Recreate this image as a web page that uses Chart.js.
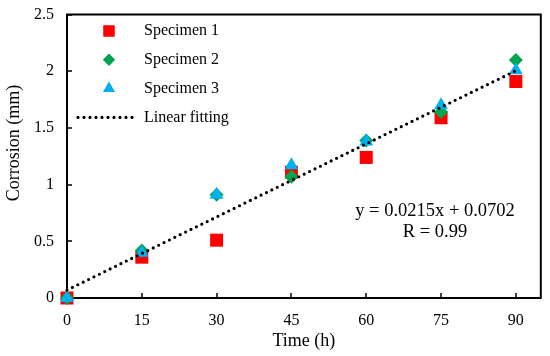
<!DOCTYPE html>
<html><head><meta charset="utf-8">
<script src="https://cdn.jsdelivr.net/npm/chart.js@4"></script>
<style>html,body{margin:0;padding:0;background:#fff}#wrap{width:550px;height:356px}</style>
</head><body><div id="wrap"><canvas id="c" width="550" height="356"></canvas></div>
<script>
const timeH = [0, 15, 30, 45, 60, 75, 90];
const specimen1 = [0, 0.36, 0.51, 1.11, 1.24, 1.59, 1.91];
const specimen2 = [0, 0.42, 0.91, 1.07, 1.39, 1.64, 2.10];
const specimen3 = [0, 0.40, 0.91, 1.17, 1.38, 1.70, 2.01];
const fitX = [0, 90];
const fitY = [0.0702, 2.0052];
const xTicks = [0, 15, 30, 45, 60, 75, 90];
const yTicks = [0, 0.5, 1, 1.5, 2, 2.5];
const seriesLabels = ['Specimen 1', 'Specimen 2', 'Specimen 3', 'Linear fitting'];
const annotationLines = ['y = 0.0215x + 0.0702', 'R = 0.99'];
const xTitle = 'Time (h)';
const yTitle = 'Corrosion (mm)';

const FONT = '"Liberation Serif", "Times New Roman", serif';
const pts = (xs, ys) => xs.map((x, i) => ({x: x, y: ys[i]}));

const boxPlugin = {
  id: 'box',
  beforeDatasetsDraw(chart) {
    const {ctx, chartArea: a, scales} = chart;
    ctx.save();
    ctx.strokeStyle = '#000';
    ctx.lineWidth = 2;
    ctx.beginPath();
    ctx.rect(a.left, a.top, a.right - a.left, a.bottom - a.top);
    ctx.stroke();
    ctx.lineWidth = 1.5;
    xTicks.forEach(v => {
      const px = Math.round(scales.x.getPixelForValue(v));
      ctx.beginPath(); ctx.moveTo(px, a.bottom); ctx.lineTo(px, a.bottom - 5); ctx.stroke();
    });
    yTicks.forEach(v => {
      const py = Math.round(scales.y.getPixelForValue(v));
      ctx.beginPath(); ctx.moveTo(a.left, py); ctx.lineTo(a.left + 5, py); ctx.stroke();
    });
    ctx.fillStyle = '#000';
    ctx.font = '18px ' + FONT;
    ctx.textAlign = 'center';
    ctx.textBaseline = 'middle';
    ctx.translate(14, 143);
    ctx.rotate(-Math.PI / 2);
    ctx.fillText(yTitle, 0, 0);
    ctx.restore();
  },
  afterDraw(chart) {
    const {ctx} = chart;
    ctx.save();
    const lx = 109, ly0 = 31, dy = 28.8, tx = 144;
    ctx.font = '16px ' + FONT;
    ctx.textBaseline = 'middle';
    chart.data.datasets.forEach((ds, i) => {
      const y = ly0 + i * dy;
      if (ds.showLine) {
        ctx.save();
        ctx.strokeStyle = '#000';
        ctx.lineWidth = 3.2;
        ctx.lineCap = 'round';
        ctx.setLineDash([0, 6]);
        ctx.beginPath(); ctx.moveTo(78, y); ctx.lineTo(135, y); ctx.stroke();
        ctx.restore();
      } else {
        ctx.fillStyle = ds.backgroundColor;
        Chart.helpers.drawPoint(ctx, {pointStyle: ds.pointStyle, radius: ds.pointRadius * 0.85, borderWidth: 0, rotation: 0}, lx, y);
        ctx.fillStyle = ds.backgroundColor;
        ctx.fill();
      }
      ctx.fillStyle = '#000';
      ctx.textAlign = 'left';
      ctx.fillText(ds.label, tx, y);
    });
    ctx.font = '18.5px ' + FONT;
    ctx.textAlign = 'center';
    ctx.fillStyle = '#000';
    ctx.fillText(annotationLines[0], 435, 211);
    ctx.fillText(annotationLines[1], 435, 232);
    ctx.restore();
  }
};

new Chart(document.getElementById('c'), {
  type: 'scatter',
  data: {
    datasets: [
      {label: seriesLabels[0], data: pts(timeH, specimen1), pointStyle: 'rect', pointRadius: 9.2, pointHoverRadius: 9.2,
       backgroundColor: '#ff0000', borderWidth: 0, order: 4, clip: false},
      {label: seriesLabels[1], data: pts(timeH, specimen2), pointStyle: 'rectRot', pointRadius: 7, pointHoverRadius: 7,
       backgroundColor: '#00a550', borderWidth: 0, order: 3, clip: false},
      {label: seriesLabels[2], data: pts(timeH, specimen3), pointStyle: 'triangle', pointRadius: 8, pointHoverRadius: 8,
       backgroundColor: '#00b0f0', borderWidth: 0, order: 2, clip: false},
      {label: seriesLabels[3], data: pts(fitX, fitY), showLine: true, pointRadius: 0, borderColor: '#000',
       borderWidth: 3.2, borderDash: [0, 6], borderCapStyle: 'round', fill: false, order: 1, clip: false}
    ]
  },
  options: {
    responsive: false,
    animation: false,
    devicePixelRatio: 1,
    layout: {padding: {top: 11, right: 6, left: 0, bottom: 0}},
    plugins: {legend: {display: false}, tooltip: {enabled: false}},
    scales: {
      x: {
        type: 'linear', min: 0, max: 95,
        afterBuildTicks: s => { s.ticks = xTicks.map(v => ({value: v})); },
        afterFit: s => { s.height = 58; },
        grid: {display: false},
        border: {display: false},
        ticks: {color: '#000', font: {family: FONT, size: 16}, padding: 5, maxRotation: 0, callback: v => String(v)},
        title: {display: true, text: xTitle, color: '#000', font: {family: FONT, size: 18}, padding: {top: 0}}
      },
      y: {
        type: 'linear', min: 0, max: 2.5,
        afterBuildTicks: s => { s.ticks = yTicks.map(v => ({value: v})); },
        afterFit: s => { s.width = 67; },
        grid: {display: false},
        border: {display: false},
        ticks: {color: '#000', font: {family: FONT, size: 16}, padding: 5, callback: v => String(v)},
        title: {display: false}
      }
    }
  },
  plugins: [boxPlugin]
});
</script>
</body></html>
